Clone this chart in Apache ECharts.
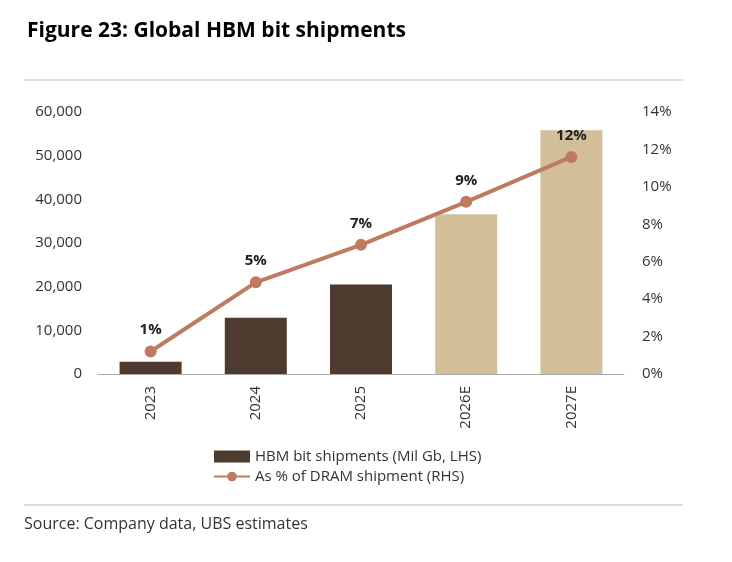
<!DOCTYPE html>
<html><head><meta charset="utf-8">
<script src="https://cdn.jsdelivr.net/npm/echarts@6/dist/echarts.min.js"></script>
<style>body{margin:0;background:#fff}#c{width:732px;height:562px}</style>
</head><body><div id="c"></div>
<script>
const categories = ['2023','2024','2025','2026E','2027E'];
const shipments = [2800, 12900, 20500, 36600, 55800];
const dramShare = [1.2, 4.9, 6.9, 9.2, 11.6];
const shareLabels = ['1%','5%','7%','9%','12%'];
const dark = '#4e3b30', light = '#d2bf9a', lineC = '#c07a5f';
const chart = echarts.init(document.getElementById('c'));
const font = 'Open Sans';
chart.setOption({
  animation:false,
  textStyle:{fontFamily:font},
  title:{text:'Figure 23: Global HBM bit shipments',left:22,top:16,textStyle:{fontFamily:font,fontSize:21,fontWeight:'bold',color:'#000'}},
  graphic:[
    {type:'line',shape:{x1:24,y1:80,x2:683,y2:80},style:{stroke:'#bbb',lineWidth:1}},
    {type:'line',shape:{x1:24,y1:505,x2:683,y2:505},style:{stroke:'#bbb',lineWidth:1}},
    {type:'text',left:24,top:516,style:{text:'Source: Company data, UBS estimates',font:'16px "Open Sans"',fill:'#333'}}
  ],
  legend:{orient:'vertical',left:208,top:444,itemGap:5,itemWidth:36,itemHeight:12,
    textStyle:{fontSize:15,color:'#333',fontFamily:font},
    data:[{name:'HBM bit shipments (Mil Gb, LHS)',icon:'rect',itemStyle:{color:dark}},{name:'As % of DRAM shipment (RHS)'}]},
  grid:{left:98,right:108,top:112,bottom:188},
  xAxis:{type:'category',data:categories,axisTick:{show:false},axisLine:{lineStyle:{color:'#aaa'}},
    axisLabel:{rotate:90,fontSize:15,color:'#333',margin:12}},
  yAxis:[
    {type:'value',min:0,max:60000,interval:10000,splitLine:{show:false},
      axisLabel:{fontSize:15,color:'#333',margin:16,formatter:v=>v.toLocaleString('en-US')}},
    {type:'value',min:0,max:14,interval:2,splitLine:{show:false},
      axisLabel:{fontSize:15,color:'#333',margin:18,formatter:'{value}%'}}
  ],
  series:[
    {name:'HBM bit shipments (Mil Gb, LHS)',type:'bar',barWidth:62,data:shipments.map((v,i)=>({value:v,itemStyle:{color:i<3?dark:light}}))},
    {name:'As % of DRAM shipment (RHS)',type:'line',yAxisIndex:1,data:dramShare,
      lineStyle:{color:lineC,width:4},itemStyle:{color:lineC},symbol:'circle',symbolSize:12,
      label:{show:true,position:'top',distance:8,fontSize:15,fontWeight:'bold',color:'#222',formatter:p=>shareLabels[p.dataIndex]}}
  ]
});
</script></body></html>
